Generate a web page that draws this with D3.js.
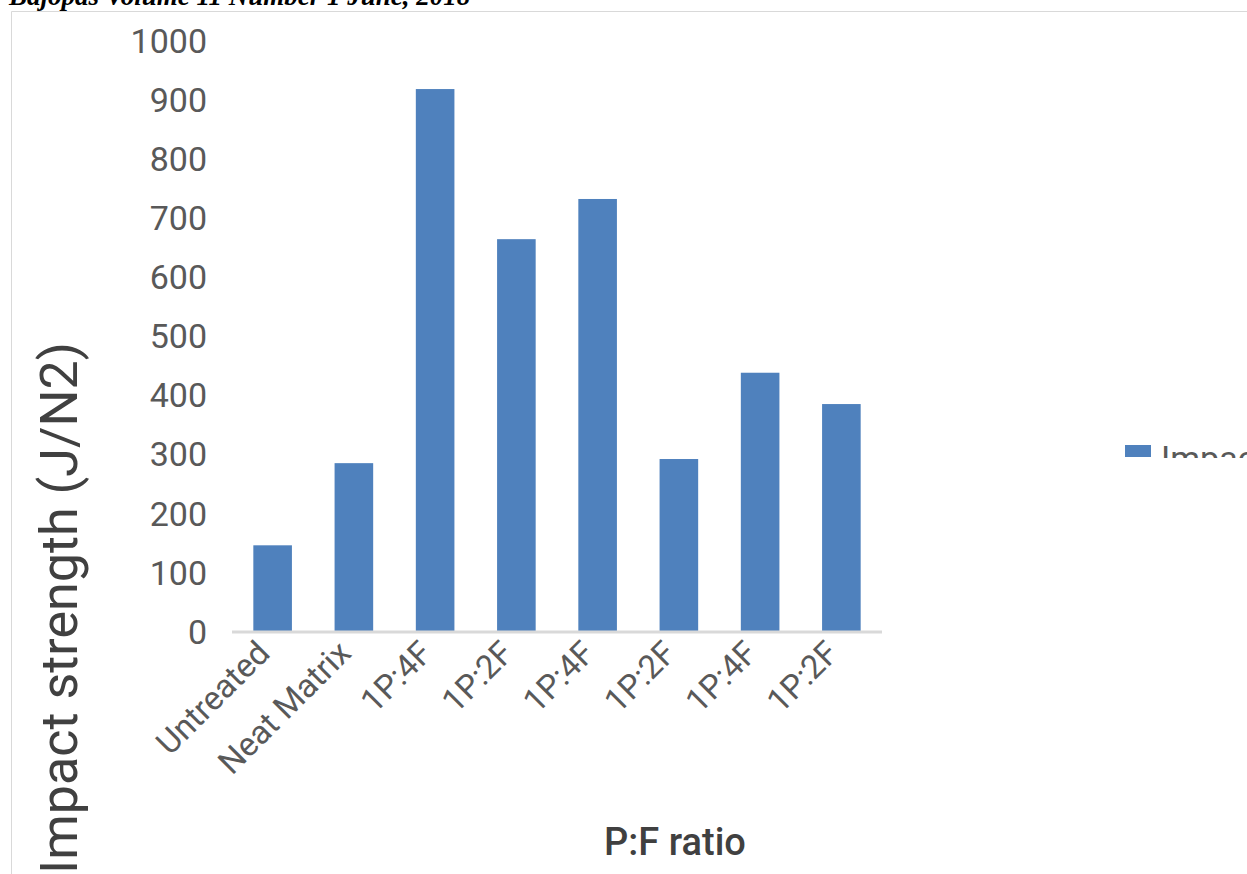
<!DOCTYPE html>
<html><head><meta charset="utf-8">
<script src="https://cdn.jsdelivr.net/npm/d3@7"></script>
<style>body{margin:0;background:#fff;overflow:hidden}svg{display:block}</style>
</head><body>
<script>
const categories = ["Untreated","Neat Matrix","1P:4F","1P:2F","1P:4F","1P:2F","1P:4F","1P:2F"];
const values = [145, 284, 917, 663, 731, 291, 437, 384];
const yTicks = [0,100,200,300,400,500,600,700,800,900,1000];
const seriesName = "Impact strength";

(function(){
const W = 1247, H = 874;
const svg = d3.select("body").append("svg").attr("width", W).attr("height", H);

// header
svg.append("text").attr("x", 9).attr("y", 5)
  .attr("font-family", "Liberation Serif").attr("font-weight", "bold").attr("font-style", "italic")
  .attr("font-size", 27).attr("fill", "#000").text("Bajopas Volume 11 Number 1 June, 2018");

// chart frame
svg.append("path").attr("d", `M11.5,${H} V11.5 H${W}`).attr("fill", "none").attr("stroke", "#d9d9d9").attr("stroke-width", 1);

const pl = 232, pr = 882, pt = 40, pb = 631;
const x = d3.scaleBand().domain(d3.range(categories.length)).range([pl, pr]).paddingInner(0.525).paddingOuter(0.2625);
const y = d3.scaleLinear().domain([0, 1000]).range([pb, pt]);

// bars
svg.append("g").selectAll("rect").data(values).join("rect")
  .attr("x", (d, i) => x(i)).attr("width", x.bandwidth())
  .attr("y", d => y(d)).attr("height", d => y(0) - y(d))
  .attr("fill", "#4f81bd");

// y axis labels
const yAxis = d3.axisLeft(y).tickValues(yTicks).tickSize(0).tickPadding(0).tickFormat(d3.format("d"));
const gy = svg.append("g").attr("transform", `translate(207,0)`).call(yAxis);
gy.select(".domain").remove();
gy.selectAll("text").attr("font-family", "Roboto").attr("font-size", 34).attr("fill", "#595959").attr("dy", "0.36em");

// x axis line + labels
const xAxis = d3.axisBottom(x).tickSize(0).tickFormat(i => categories[i]);
const gx = svg.append("g").attr("transform", `translate(0,${pb + 1})`).call(xAxis);
gx.select(".domain").attr("stroke", "#d9d9d9").attr("stroke-width", 3).attr("d", `M${pl},0H${pr}`);
gx.selectAll(".tick text")
  .attr("font-family", "Roboto").attr("font-size", 33).attr("fill", "#595959")
  .attr("text-anchor", "end").attr("dy", 0).attr("y", 0)
  .attr("transform", "translate(-1,23) rotate(-45)");

// axis titles
svg.append("text").attr("transform", "translate(77,608) rotate(-90)")
  .attr("text-anchor", "middle").attr("font-family", "Roboto").attr("font-size", 52).attr("fill", "#404040")
  .text("Impact strength (J/N2)");
svg.append("text").attr("x", 675).attr("y", 855).attr("text-anchor", "middle")
  .attr("font-family", "Roboto").attr("font-weight", 500).attr("font-size", 38).attr("fill", "#404040").text("P:F ratio");

// legend (clipped as in reference)
svg.append("clipPath").attr("id", "lc").append("rect").attr("x", 1100).attr("y", 430).attr("width", 200).attr("height", 28);
const lg = svg.append("g").attr("clip-path", "url(#lc)");
lg.append("rect").attr("x", 1125).attr("y", 445).attr("width", 26).attr("height", 12).attr("fill", "#4f81bd");
lg.append("text").attr("x", 1161).attr("y", 470).attr("font-family", "Roboto").attr("font-size", 34).attr("fill", "#595959").text(seriesName);
})();
</script>
</body></html>
